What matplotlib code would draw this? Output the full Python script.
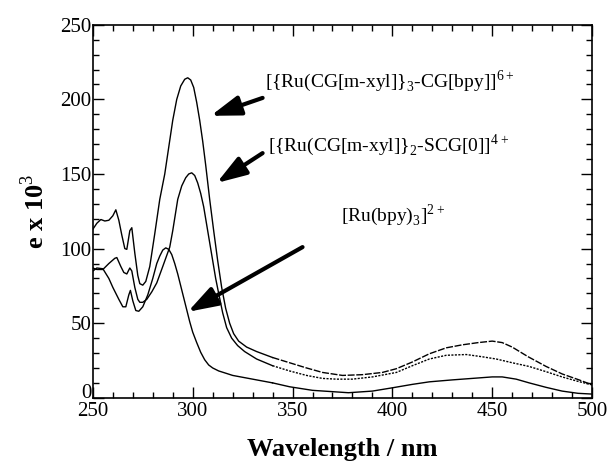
import matplotlib
matplotlib.use("Agg")
import matplotlib.pyplot as plt
import matplotlib.transforms as mtransforms
import numpy as np

plt.rcParams['font.family'] = ['Liberation Serif', 'DejaVu Serif']
plt.rcParams['mathtext.fontset'] = 'custom'
plt.rcParams['mathtext.rm'] = 'Liberation Serif'

# [{Ru(CG[m-xyl]}3-CG[bpy]]6+
wl_a = [250, 252, 254, 256, 258, 260, 261.5, 263, 264.5, 266, 267, 268.5, 269.5, 271,
        272.5, 273.5, 275, 276.5, 278.5, 281, 283.5, 286, 288, 290, 292, 294, 296,
        297.5, 299, 300.5, 302, 303.5, 305, 306.5, 308.5, 310.5, 312.5, 314.5, 316.5,
        318.5, 320.5, 323, 327, 332, 340, 348.5, 357, 365, 375, 385, 395, 402,
        410, 418.5, 427, 435, 443, 450, 455, 460, 468, 477, 485, 493.5, 500]
eps_a = [113, 117, 119.5, 118.5, 119, 122, 126, 119, 109, 100, 99.5, 112, 114, 97,
         82, 76.5, 75.5, 78, 88, 110, 133, 150, 168, 186, 200, 209, 213.5,
         214.5, 213, 208, 198, 186, 172, 156, 133, 112, 92, 74, 60,
         50, 43, 38, 34, 31, 27, 23.5, 20, 17, 15, 15.5, 17, 19.5,
         24, 29.5, 33.5, 35.5, 37, 38, 37, 34, 27.5, 21, 16, 12, 8.7]

# [{Ru(CG[m-xyl]}2-SCG[0]]4+
wl_b = [250, 252, 255, 258, 261, 262, 264, 265.5, 267, 268.5, 269.5, 271, 272.5, 273.5,
        275, 277, 279.5, 282, 285, 288.5, 290, 292.5, 294.5, 296.5, 298, 299.5, 301,
        302.5, 304, 305.5, 307, 308.5, 310, 311.5, 313, 315, 317, 319.5, 322.5, 326,
        332, 340, 348.5, 357, 365, 372, 380, 390, 402, 410,
        418.5, 427, 437, 445, 452, 460, 468.5, 477, 485, 493, 500]
eps_b = [87, 86, 86, 90, 93.5, 94, 88, 84, 83, 87, 85, 74, 66, 64,
         64, 66, 71, 77, 88, 101, 112, 133, 142, 147.5, 150, 150.8, 149,
         144, 137, 128, 116, 104, 92, 80, 70, 57, 47, 40, 35, 31,
         26, 21.5, 18, 15, 13, 12.5, 12.5, 14, 17, 21.5,
         26, 28.5, 29, 27.5, 26, 23.5, 21, 17.5, 14, 11, 8.7]

# [Ru(bpy)3]2+
wl_c = [250, 252, 255, 258, 260, 263, 265, 266.5, 268, 268.8, 270, 271.5, 273, 275,
        277.5, 280, 282, 283.5, 285, 286.5, 288, 289.5, 291, 292.5, 294, 295.5, 297,
        298.5, 300, 302, 304, 306, 308, 310, 313, 317, 320, 332, 340, 348.5, 360,
        378, 390, 400, 410, 418.5, 430, 440, 450, 455, 462, 468.5, 477, 485, 493, 500]
eps_c = [85, 87, 86.5, 80, 74, 66, 61, 61, 69, 72, 65, 58.5, 58, 61,
         69, 80, 90, 95, 99, 100.5, 99.5, 96, 90, 83, 75, 67, 59,
         51, 44, 37, 30.5, 25.5, 22, 20, 18, 16.3, 15, 12, 10, 7.4, 5,
         3.4, 4.5, 6.7, 9, 10.7, 12, 13, 14, 14, 12.5, 10, 7, 4.5, 3, 2.5]

labels = [r"[{Ru(CG[m-xyl]}$_3$-CG[bpy]]$^{6+}$",
          r"[{Ru(CG[m-xyl]}$_2$-SCG[0]]$^{4+}$",
          r"[Ru(bpy)$_3$]$^{2+}$"]

fig = plt.figure(figsize=(6.11, 4.68), dpi=100)
ax = fig.add_axes([0.152, 0.15, 0.817, 0.797])

cut = 345
for wl, eps, ls in [(wl_a, eps_a, (0, (5, 1.2))), (wl_b, eps_b, (0, (1.5, 1))), (wl_c, eps_c, '-')]:
    wl = np.array(wl)
    eps = np.array(eps)
    m1 = wl <= cut
    m2 = wl >= wl[m1][-1]
    ax.plot(wl[m1], eps[m1], color='black', lw=1.0)
    ax.plot(wl[m2], eps[m2], color='black', lw=1.0, linestyle=ls)

ax.set_xlim(250, 500)
ax.set_ylim(0, 250)
ax.set_xticks([250, 300, 350, 400, 450, 500])
ax.set_yticks([0, 50, 100, 150, 200, 250])
ax.set_xticks(np.arange(250, 501, 10), minor=True)
ax.set_yticks(np.arange(0, 251, 10), minor=True)
ax.tick_params(which='both', direction='in', top=True, right=True, labelsize=15, width=1)
ax.tick_params(which='major', length=8, pad=1)
ax.tick_params(axis='x', which='major', pad=3)
ax.tick_params(which='minor', length=4)
for s in ax.spines.values():
    s.set_linewidth(1.2)

# the "0" sits just above the "250", as in the original
lab0 = ax.yaxis.get_majorticklabels()[0]
lab0.set_transform(lab0.get_transform() + mtransforms.ScaledTranslation(0, 5 / 72, fig.dpi_scale_trans))

ax.set_xlabel("Wavelength / nm", fontsize=19, fontweight='bold', labelpad=12)
ax.set_ylabel(r"e x 10$^3$", fontsize=19, fontweight='bold', labelpad=8)

arrow = dict(arrowstyle='-|>,head_length=0.9,head_width=0.3', color='black', lw=3.0,
             mutation_scale=20, shrinkA=0, shrinkB=0)
ax.annotate("", xy=(309, 189), xytext=(335, 201), arrowprops=arrow)
ax.annotate("", xy=(312, 144), xytext=(335, 164), arrowprops=arrow)
ax.annotate("", xy=(297.5, 57.6), xytext=(355, 101), arrowprops=arrow)

ax.text(336, 212, labels[0], fontsize=14, va='center', ha='left')
ax.text(337.5, 169.6, labels[1], fontsize=14, va='center', ha='left')
ax.text(374.5, 122.6, labels[2], fontsize=14, va='center', ha='left')

fig.savefig("out.png", dpi=100)
